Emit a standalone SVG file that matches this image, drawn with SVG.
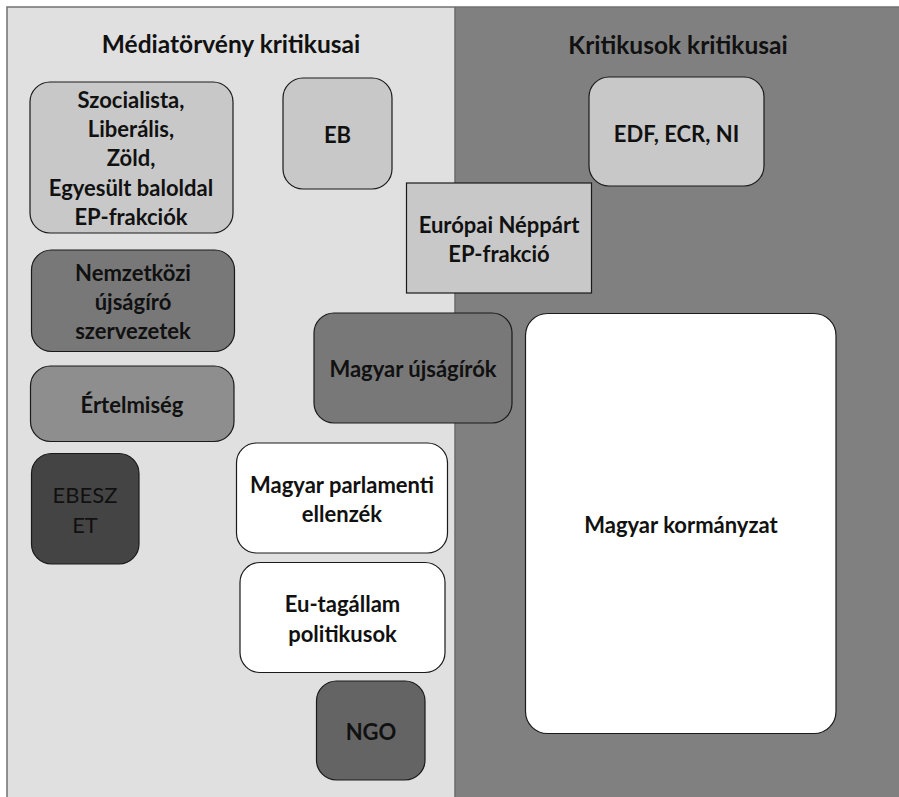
<svg xmlns="http://www.w3.org/2000/svg" width="899" height="797" viewBox="0 0 899 797">
<style>
.t{font-family:Lato,"Liberation Sans",sans-serif;font-weight:bold;font-size:22px;fill:#111;text-anchor:middle}
.h{font-size:24.5px}
.n{stroke:#1a1a1a;stroke-width:1.2}
</style>
<g id="background">
<rect x="7" y="7" width="448" height="800" fill="#e0e0e0"/>
<rect x="455" y="7" width="450" height="800" fill="#808080"/>
<rect x="7" y="7" width="900" height="800" fill="none" stroke="#707070" stroke-width="1.5"/>
<line x1="455" y1="7" x2="455" y2="797" stroke="#6a6a6a" stroke-width="1.5"/>
<text class="t h" x="231" y="53">Médiatörvény kritikusai</text>
<text class="t h" x="678" y="54">Kritikusok kritikusai</text>
</g>
<g id="connectors"></g>
<g id="n-szoc"><rect class="n" x="30" y="82" width="203" height="151" rx="20" fill="#c8c8c8"/>
<text class="t" x="131" y="108">Szocialista,</text><text class="t" x="131" y="137">Liberális,</text><text class="t" x="131" y="166">Zöld,</text><text class="t" x="131" y="196">Egyesült baloldal</text><text class="t" x="131" y="225">EP-frakciók</text></g>
<g id="n-eb"><rect class="n" x="283" y="78" width="109" height="111" rx="20" fill="#c8c8c8"/><text class="t" x="337.5" y="143">EB</text></g>
<g id="n-epp"><rect class="n" x="406.5" y="183" width="185" height="110" fill="#c8c8c8"/><text class="t" x="499" y="233">Európai Néppárt</text><text class="t" x="499" y="262">EP-frakció</text></g>
<g id="n-edf"><rect class="n" x="589" y="77" width="175" height="109" rx="20" fill="#c8c8c8"/><text class="t" x="676.5" y="142">EDF, ECR, NI</text></g>
<g id="n-nemz"><rect class="n" x="31.5" y="250" width="203" height="101.5" rx="20" fill="#787878"/><text class="t" x="133" y="281">Nemzetközi</text><text class="t" x="133" y="310">újságíró</text><text class="t" x="133" y="339">szervezetek</text></g>
<g id="n-ert"><rect class="n" x="30.5" y="366" width="203.5" height="75.5" rx="20" fill="#8e8e8e"/><text class="t" x="132" y="413">Értelmiség</text></g>
<g id="n-ebesz"><rect class="n" x="31.5" y="453.5" width="107.5" height="110.5" rx="20" fill="#444444"/><text class="t" x="85" y="503" style="font-weight:normal">EBESZ</text><text class="t" x="85" y="533" style="font-weight:normal">ET</text></g>
<g id="n-mujs"><rect class="n" x="314" y="313" width="198" height="110" rx="20" fill="#787878"/><text class="t" x="413" y="377">Magyar újságírók</text></g>
<g id="n-mpe"><rect class="n" x="236.5" y="443" width="211" height="110" rx="20" fill="#ffffff"/><text class="t" x="342" y="493">Magyar parlamenti</text><text class="t" x="342" y="522">ellenzék</text></g>
<g id="n-eut"><rect class="n" x="240" y="562.5" width="205" height="110" rx="20" fill="#ffffff"/><text class="t" x="342.5" y="612">Eu-tagállam</text><text class="t" x="342.5" y="642">politikusok</text></g>
<g id="n-ngo"><rect class="n" x="316.5" y="681" width="108.5" height="99" rx="20" fill="#646464"/><text class="t" x="371" y="740">NGO</text></g>
<g id="n-korm"><rect class="n" x="525.5" y="313.5" width="310.5" height="420" rx="22" fill="#ffffff"/><text class="t" x="681" y="533">Magyar kormányzat</text></g>
</svg>
